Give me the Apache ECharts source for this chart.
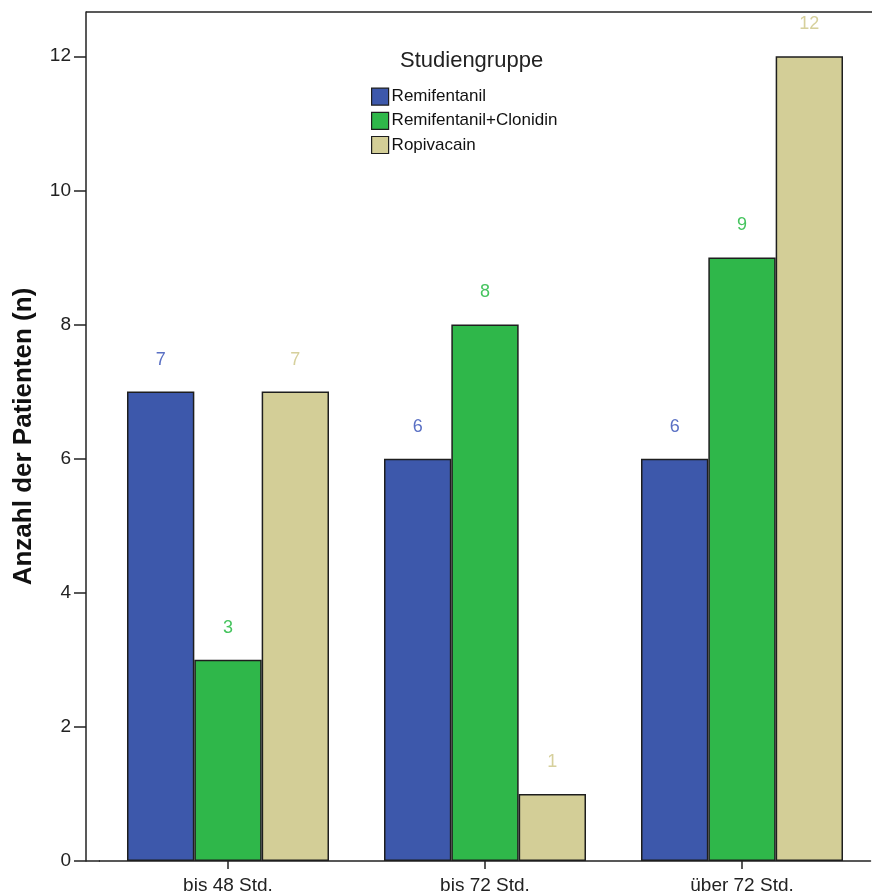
<!DOCTYPE html>
<html>
<head>
<meta charset="utf-8">
<script src="https://cdn.jsdelivr.net/npm/echarts@6/dist/echarts.min.js"></script>
<style>html,body{margin:0;padding:0;background:#fff;}#c{width:872px;height:892px;}</style>
</head>
<body>
<div id="c"></div>
<script>
var categories = ['bis 48 Std.', 'bis 72 Std.', 'über 72 Std.'];
var seriesNames = ['Remifentanil', 'Remifentanil+Clonidin', 'Ropivacain'];
var remifentanil = [7, 6, 6];
var remifentanilClonidin = [3, 8, 9];
var ropivacain = [7, 1, 12];
var yTicks = [0, 2, 4, 6, 8, 10, 12];
var yMax = 12.66;

var barColors = ['#3d58ab', '#2fb74a', '#d3ce97'];
var labelColors = ['#5a70c4', '#45c45e', '#d6d09c'];
var FONT = '"Liberation Sans", Arial, sans-serif';

var chart = echarts.init(document.getElementById('c'));

function mk(name, data, i) {
  return {
    name: name,
    type: 'bar',
    data: data,
    barGap: '0%',
    barCategoryGap: '21.4%',
    itemStyle: { color: barColors[i], borderColor: '#1e1e1e', borderWidth: 1.5 },
    label: { show: true, position: 'top', distance: 23, color: labelColors[i], fontFamily: FONT, fontSize: 18 },
    emphasis: { disabled: true }
  };
}

chart.setOption({
  animation: false,
  backgroundColor: '#ffffff',
  title: {
    text: 'Studiengruppe',
    left: 400, top: 50, padding: 0,
    textStyle: { fontFamily: FONT, fontSize: 22, fontWeight: 'normal', color: '#222' }
  },
  legend: {
    orient: 'vertical',
    left: 371, top: 87.5, padding: 0,
    itemWidth: 17, itemHeight: 17, itemGap: 6,
    icon: 'rect',
    itemStyle: { borderColor: '#1e1e1e', borderWidth: 1.2 },
    textStyle: { fontFamily: FONT, fontSize: 17, lineHeight: 17, color: '#111', padding: [0, 0, 0, -2] },
    data: seriesNames
  },
  grid: { left: 99.5, right: 1.5, top: 12, bottom: 31, containLabel: false, outerBoundsMode: 'none' },
  xAxis: {
    type: 'category',
    data: categories,
    axisLine: { show: true, lineStyle: { color: '#222', width: 1.5 } },
    axisTick: { show: true, alignWithLabel: true, length: 8, lineStyle: { color: '#222', width: 1.5 } },
    axisLabel: { fontFamily: FONT, fontSize: 19, color: '#222', margin: 15 }
  },
  yAxis: {
    type: 'value',
    min: 0, max: yMax, interval: 2,
    offset: 13.5,
    name: 'Anzahl der Patienten (n)',
    nameLocation: 'middle',
    nameGap: 49,
    nameTextStyle: { fontFamily: FONT, fontSize: 26, fontWeight: 'bold', color: '#111' },
    axisLine: { show: true, lineStyle: { color: '#222', width: 1.5 } },
    axisTick: { show: true, length: 12, customValues: yTicks, lineStyle: { color: '#222', width: 1.5 } },
    axisLabel: { fontFamily: FONT, fontSize: 19, color: '#222', margin: 15, customValues: yTicks },
    splitLine: { show: false }
  },
  graphic: [
    { type: 'line', shape: { x1: 86, y1: 12, x2: 872, y2: 12 }, style: { stroke: '#222', lineWidth: 1.5 }, silent: true },
    { type: 'line', shape: { x1: 86, y1: 861, x2: 100, y2: 861 }, style: { stroke: '#222', lineWidth: 1.5 }, silent: true }
  ],
  series: [
    mk(seriesNames[0], remifentanil, 0),
    mk(seriesNames[1], remifentanilClonidin, 1),
    mk(seriesNames[2], ropivacain, 2)
  ]
});
</script>
</body>
</html>
